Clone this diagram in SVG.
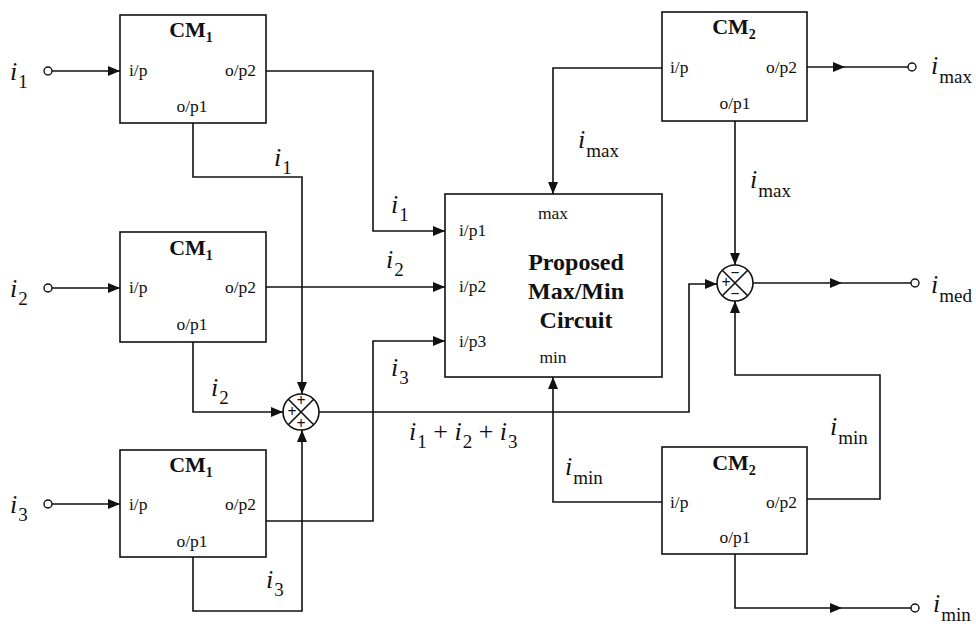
<svg xmlns="http://www.w3.org/2000/svg" width="976" height="626" viewBox="0 0 976 626" font-family="'Liberation Serif','Times New Roman',serif">
<defs>
<marker id="ah" markerWidth="12" markerHeight="10" refX="12" refY="5" orient="auto" markerUnits="userSpaceOnUse">
<path d="M0,0 L12,5 L0,10 Z" fill="#111"/>
</marker>
<style>
.box{fill:#fff;stroke:#111;stroke-width:1.6}
.w{fill:none;stroke:#111;stroke-width:1.6}
.term{fill:#fff;stroke:#111;stroke-width:1.4}
.t{font-family:'Liberation Serif','Times New Roman',serif;fill:#111}
.port{font-size:17.5px}
.title{font-size:22px;font-weight:bold}
.tsub{font-size:14px;font-weight:bold}
.big{font-size:24px;font-weight:bold}
.v{font-size:26px;font-style:italic}
.vs{font-size:19px;font-style:normal}
.sgn{font-size:16px;font-weight:bold}
</style>
</defs>
<rect width="976" height="626" fill="#fff"/>

<g id="connectors">
<path class="w" d="M52,71 H120" marker-end="url(#ah)"/>
<path class="w" d="M52,288 H120" marker-end="url(#ah)"/>
<path class="w" d="M52,504 H120" marker-end="url(#ah)"/>
<path class="w" d="M266,71 H373 V231 H445" marker-end="url(#ah)"/>
<path class="w" d="M193,123 V177 H302 V394" marker-end="url(#ah)"/>
<path class="w" d="M266,287 H445" marker-end="url(#ah)"/>
<path class="w" d="M193,342 V412 H283" marker-end="url(#ah)"/>
<path class="w" d="M266,521 H373 V341 H445" marker-end="url(#ah)"/>
<path class="w" d="M193,557 V611 H302 V430" marker-end="url(#ah)"/>
<path class="w" d="M319,412 H689 V284 H717" marker-end="url(#ah)"/>
<path class="w" d="M662,68 H553 V194" marker-end="url(#ah)"/>
<path class="w" d="M807,67 H845" marker-end="url(#ah)"/>
<path class="w" d="M845,67 H908"/>
<path class="w" d="M735,121 V265" marker-end="url(#ah)"/>
<path class="w" d="M753,283 H842" marker-end="url(#ah)"/>
<path class="w" d="M842,283 H911"/>
<path class="w" d="M807,499 H880 V375 H735 V301" marker-end="url(#ah)"/>
<path class="w" d="M662,502 H553 V377" marker-end="url(#ah)"/>
<path class="w" d="M735,554 V608 H842" marker-end="url(#ah)"/>
<path class="w" d="M842,608 H911"/>
<circle class="term" cx="48" cy="71" r="4"/>
<circle class="term" cx="48" cy="288" r="4"/>
<circle class="term" cx="48" cy="504" r="4"/>
<circle class="term" cx="912" cy="67" r="4"/>
<circle class="term" cx="915" cy="283" r="4"/>
<circle class="term" cx="915" cy="608" r="4"/>
</g>

<g id="labels">
<text class="t v" x="10" y="80">i<tspan class="vs" dx="1" dy="8">1</tspan></text>
<text class="t v" x="10" y="297">i<tspan class="vs" dx="1" dy="8">2</tspan></text>
<text class="t v" x="10" y="513">i<tspan class="vs" dx="1" dy="8">3</tspan></text>
<text class="t v" x="274" y="166">i<tspan class="vs" dx="1" dy="8">1</tspan></text>
<text class="t v" x="211" y="396">i<tspan class="vs" dx="1" dy="8">2</tspan></text>
<text class="t v" x="266" y="588">i<tspan class="vs" dx="1" dy="8">3</tspan></text>
<text class="t v" x="391" y="213">i<tspan class="vs" dx="1" dy="8">1</tspan></text>
<text class="t v" x="386" y="268">i<tspan class="vs" dx="1" dy="8">2</tspan></text>
<text class="t v" x="391" y="376">i<tspan class="vs" dx="1" dy="8">3</tspan></text>
<text class="t v" x="409" y="440">i<tspan class="vs" dx="1" dy="8">1</tspan><tspan dy="-8" font-style="normal"> + </tspan>i<tspan class="vs" dx="1" dy="8">2</tspan><tspan dy="-8" font-style="normal"> + </tspan>i<tspan class="vs" dx="1" dy="8">3</tspan></text>
<text class="t v" x="578" y="148">i<tspan class="vs" dx="1" dy="9">max</tspan></text>
<text class="t v" x="750" y="188">i<tspan class="vs" dx="1" dy="9">max</tspan></text>
<text class="t v" x="931" y="74">i<tspan class="vs" dx="1" dy="9">max</tspan></text>
<text class="t v" x="931" y="293">i<tspan class="vs" dx="1" dy="9">med</tspan></text>
<text class="t v" x="565" y="475">i<tspan class="vs" dx="1" dy="9">min</tspan></text>
<text class="t v" x="830" y="435">i<tspan class="vs" dx="1" dy="9">min</tspan></text>
<text class="t v" x="933" y="612">i<tspan class="vs" dx="1" dy="9">min</tspan></text>
</g>

<g id="cm1a">
<rect class="box" x="120" y="15" width="146" height="108"/>
<text class="t title" x="191" y="37" text-anchor="middle">CM<tspan class="tsub" dy="5">1</tspan></text>
<text class="t port" x="129" y="76">i/p</text>
<text class="t port" x="256" y="76" text-anchor="end">o/p2</text>
<text class="t port" x="192" y="112" text-anchor="middle">o/p1</text>
</g>
<g id="cm1b">
<rect class="box" x="120" y="232" width="146" height="110"/>
<text class="t title" x="191" y="255" text-anchor="middle">CM<tspan class="tsub" dy="5">1</tspan></text>
<text class="t port" x="129" y="293">i/p</text>
<text class="t port" x="256" y="293" text-anchor="end">o/p2</text>
<text class="t port" x="192" y="330" text-anchor="middle">o/p1</text>
</g>
<g id="cm1c">
<rect class="box" x="120" y="450" width="146" height="107"/>
<text class="t title" x="191" y="472" text-anchor="middle">CM<tspan class="tsub" dy="5">1</tspan></text>
<text class="t port" x="129" y="510">i/p</text>
<text class="t port" x="256" y="510" text-anchor="end">o/p2</text>
<text class="t port" x="192" y="547" text-anchor="middle">o/p1</text>
</g>

<g id="maxmin">
<rect class="box" x="445" y="194" width="217" height="183"/>
<text class="t port" x="553" y="219" text-anchor="middle">max</text>
<text class="t port" x="553" y="363" text-anchor="middle">min</text>
<text class="t port" x="459" y="236">i/p1</text>
<text class="t port" x="459" y="292">i/p2</text>
<text class="t port" x="459" y="347">i/p3</text>
<text class="t big" x="576" y="270" text-anchor="middle">Proposed</text>
<text class="t big" x="576" y="299" text-anchor="middle">Max/Min</text>
<text class="t big" x="576" y="328" text-anchor="middle">Circuit</text>
</g>

<g id="cm2a">
<rect class="box" x="662" y="12" width="145" height="109"/>
<text class="t title" x="734" y="34" text-anchor="middle">CM<tspan class="tsub" dy="5">2</tspan></text>
<text class="t port" x="670" y="73">i/p</text>
<text class="t port" x="797" y="73" text-anchor="end">o/p2</text>
<text class="t port" x="735" y="109" text-anchor="middle">o/p1</text>
</g>
<g id="cm2b">
<rect class="box" x="662" y="447" width="145" height="107"/>
<text class="t title" x="734" y="470" text-anchor="middle">CM<tspan class="tsub" dy="5">2</tspan></text>
<text class="t port" x="670" y="508">i/p</text>
<text class="t port" x="797" y="508" text-anchor="end">o/p2</text>
<text class="t port" x="735" y="543" text-anchor="middle">o/p1</text>
</g>

<g id="sum1">
<circle class="box" cx="301" cy="412" r="18"/>
<path class="w" d="M288.3,399.3 L313.7,424.7 M313.7,399.3 L288.3,424.7"/>
<text class="t sgn" x="301" y="406" text-anchor="middle">+</text>
<text class="t sgn" x="292" y="417" text-anchor="middle">+</text>
<text class="t sgn" x="301" y="429" text-anchor="middle">+</text>
</g>
<g id="sum2">
<circle class="box" cx="735" cy="283" r="18"/>
<path class="w" d="M722.3,270.3 L747.7,295.7 M747.7,270.3 L722.3,295.7"/>
<text class="t sgn" x="735" y="278" text-anchor="middle">−</text>
<text class="t sgn" x="726" y="288" text-anchor="middle">+</text>
<text class="t sgn" x="735" y="299" text-anchor="middle">−</text>
</g>
</svg>
